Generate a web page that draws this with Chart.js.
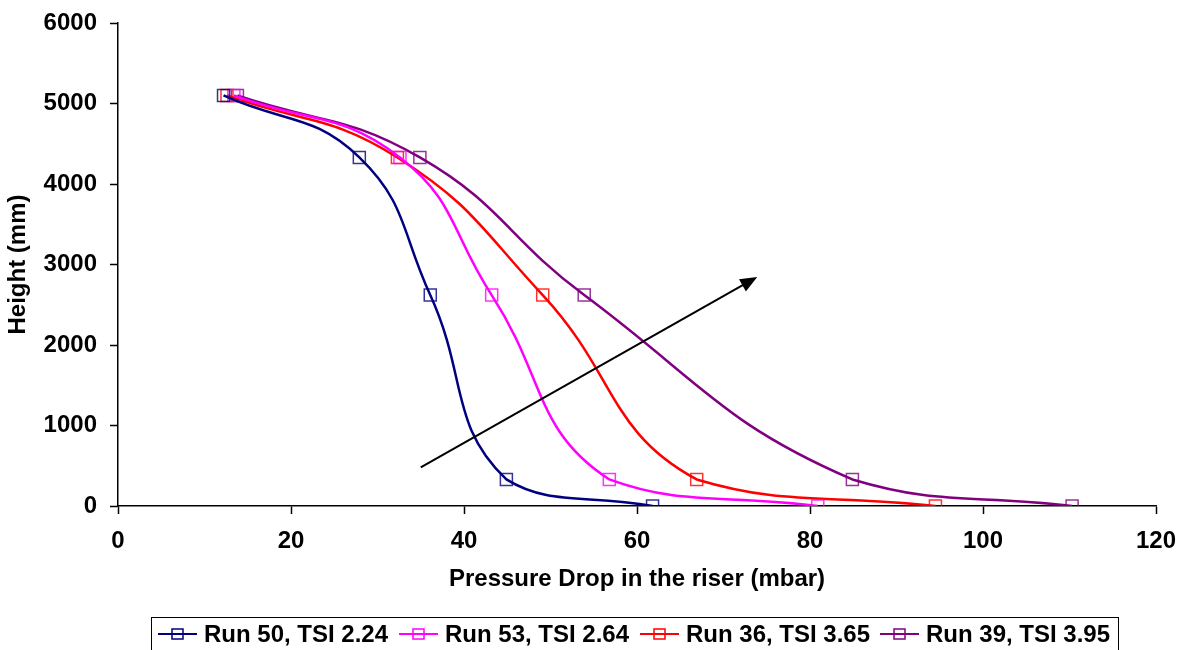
<!DOCTYPE html>
<html>
<head>
<meta charset="utf-8">
<script src="https://cdn.jsdelivr.net/npm/chart.js@4"></script>
<style>
  html, body { margin: 0; padding: 0; background: #fff; }
  #wrap { width: 1184px; height: 650px; position: relative; }
</style>
</head>
<body>
<div id="wrap"><canvas id="chart" width="1184" height="650"></canvas></div>
<script>
// データ (高さ mm, 圧力損失 mbar)
const heights = [5100, 4330, 2620, 330, 0];

const run50X = [12.2, 27.9, 36.1, 44.9, 61.8];
const run53X = [13.4, 32.6, 43.2, 56.8, 80.9];
const run36X = [12.6, 32.3, 49.1, 66.9, 94.5];
const run39X = [13.8, 34.9, 53.9, 84.9, 110.3];

const seriesLabels = ["Run 50, TSI 2.24", "Run 53, TSI 2.64", "Run 36, TSI 3.65", "Run 39, TSI 3.95"];
const seriesColors = ["#000080", "#ff00ff", "#ff0000", "#800080"];

const xTicks = [0, 20, 40, 60, 80, 100, 120];
const yTicks = [0, 1000, 2000, 3000, 4000, 5000, 6000];

// 矢印 (始点, 終点)
const arrowX = [35.0, 73.9];
const arrowY = [480, 2845];

const FONT = "'Liberation Sans', Arial, sans-serif";

function toPoints(xs) {
  return xs.map((x, i) => ({ x: x, y: heights[i] }));
}

const allX = [run50X, run53X, run36X, run39X];

const datasets = allX.map((xs, i) => ({
  label: seriesLabels[i],
  data: toPoints(xs),
  borderColor: seriesColors[i],
  borderWidth: 2.5,
  tension: 0.45,
  pointStyle: "rect",
  pointRadius: 8.5,
  pointBorderWidth: 1.5,
  pointBorderColor: seriesColors[i] + "cc",
  pointBackgroundColor: "rgba(0,0,0,0)",
  fill: false
}));

// 矢印と凡例を描くプラグイン
const extras = {
  id: "extras",
  afterDatasetsDraw(chart) {
    const ctx = chart.ctx;
    const xs = chart.scales.x, ys = chart.scales.y;
    const x1 = xs.getPixelForValue(arrowX[0]), y1 = ys.getPixelForValue(arrowY[0]);
    const x2 = xs.getPixelForValue(arrowX[1]), y2 = ys.getPixelForValue(arrowY[1]);
    const ang = Math.atan2(y2 - y1, x2 - x1);
    const headLen = 17, headW = 7;
    ctx.save();
    ctx.strokeStyle = "#000";
    ctx.fillStyle = "#000";
    ctx.lineWidth = 2;
    ctx.beginPath();
    ctx.moveTo(x1, y1);
    ctx.lineTo(x2 - Math.cos(ang) * headLen * 0.8, y2 - Math.sin(ang) * headLen * 0.8);
    ctx.stroke();
    const bx = x2 - Math.cos(ang) * headLen, by = y2 - Math.sin(ang) * headLen;
    ctx.beginPath();
    ctx.moveTo(x2, y2);
    ctx.lineTo(bx + Math.sin(ang) * headW, by - Math.cos(ang) * headW);
    ctx.lineTo(bx - Math.sin(ang) * headW, by + Math.cos(ang) * headW);
    ctx.closePath();
    ctx.fill();
    ctx.restore();
  },
  afterDraw(chart) {
    const ctx = chart.ctx;
    ctx.save();
    ctx.strokeStyle = "#000";
    ctx.lineWidth = 1;
    ctx.strokeRect(151.5, 617.5, 967, 50);
    const lineStarts = [158, 399, 640, 880];
    const cy = 634;
    ctx.font = "bold 24px " + FONT;
    ctx.textBaseline = "middle";
    ctx.fillStyle = "#000";
    lineStarts.forEach((lx, i) => {
      ctx.strokeStyle = seriesColors[i];
      ctx.lineWidth = 2;
      ctx.beginPath();
      ctx.moveTo(lx, cy);
      ctx.lineTo(lx + 39, cy);
      ctx.stroke();
      ctx.lineWidth = 1.5;
      ctx.strokeRect(lx + 14, cy - 5, 11, 10);
      ctx.fillText(seriesLabels[i], lx + 46, cy + 1);
    });
    ctx.restore();
  }
};

const tickFont = { family: FONT, size: 24, weight: "bold" };

new Chart(document.getElementById("chart"), {
  type: "line",
  data: { datasets },
  options: {
    responsive: false,
    animation: false,
    layout: { padding: { top: 23, right: 28, bottom: 50, left: 0 } },
    plugins: { legend: { display: false }, tooltip: { enabled: false } },
    scales: {
      x: {
        type: "linear",
        min: xTicks[0],
        max: xTicks[xTicks.length - 1],
        afterFit(scale) {
          scale.height = 94;
          scale.paddingRight = 0;
          scale.paddingLeft = 0;
        },
        afterBuildTicks(scale) { scale.ticks = xTicks.map(v => ({ value: v })); },
        grid: { display: true, drawOnChartArea: false, drawTicks: true, tickLength: 8, tickWidth: 1.5, tickColor: "#000" },
        border: { display: true, color: "#000", width: 1.5 },
        ticks: { color: "#000", padding: 13, font: tickFont, callback: v => String(v) },
        title: {
          display: true,
          text: "Pressure Drop in the riser (mbar)",
          color: "#000",
          font: tickFont,
          padding: { top: 0, bottom: 6 }
        }
      },
      y: {
        type: "linear",
        min: yTicks[0],
        max: yTicks[yTicks.length - 1],
        afterFit(scale) {
          scale.width = 118;
          scale.paddingTop = 0;
          scale.paddingBottom = 0;
        },
        afterBuildTicks(scale) { scale.ticks = yTicks.map(v => ({ value: v })); },
        grid: { display: true, drawOnChartArea: false, drawTicks: true, tickLength: 8, tickWidth: 1.5, tickColor: "#000" },
        border: { display: true, color: "#000", width: 1.5 },
        ticks: { color: "#000", padding: 13, font: tickFont, callback: v => String(v) },
        title: {
          display: true,
          text: "Height (mm)",
          color: "#000",
          font: tickFont,
          padding: { top: 4, bottom: 0 }
        }
      }
    }
  },
  plugins: [extras]
});
</script>
</body>
</html>
